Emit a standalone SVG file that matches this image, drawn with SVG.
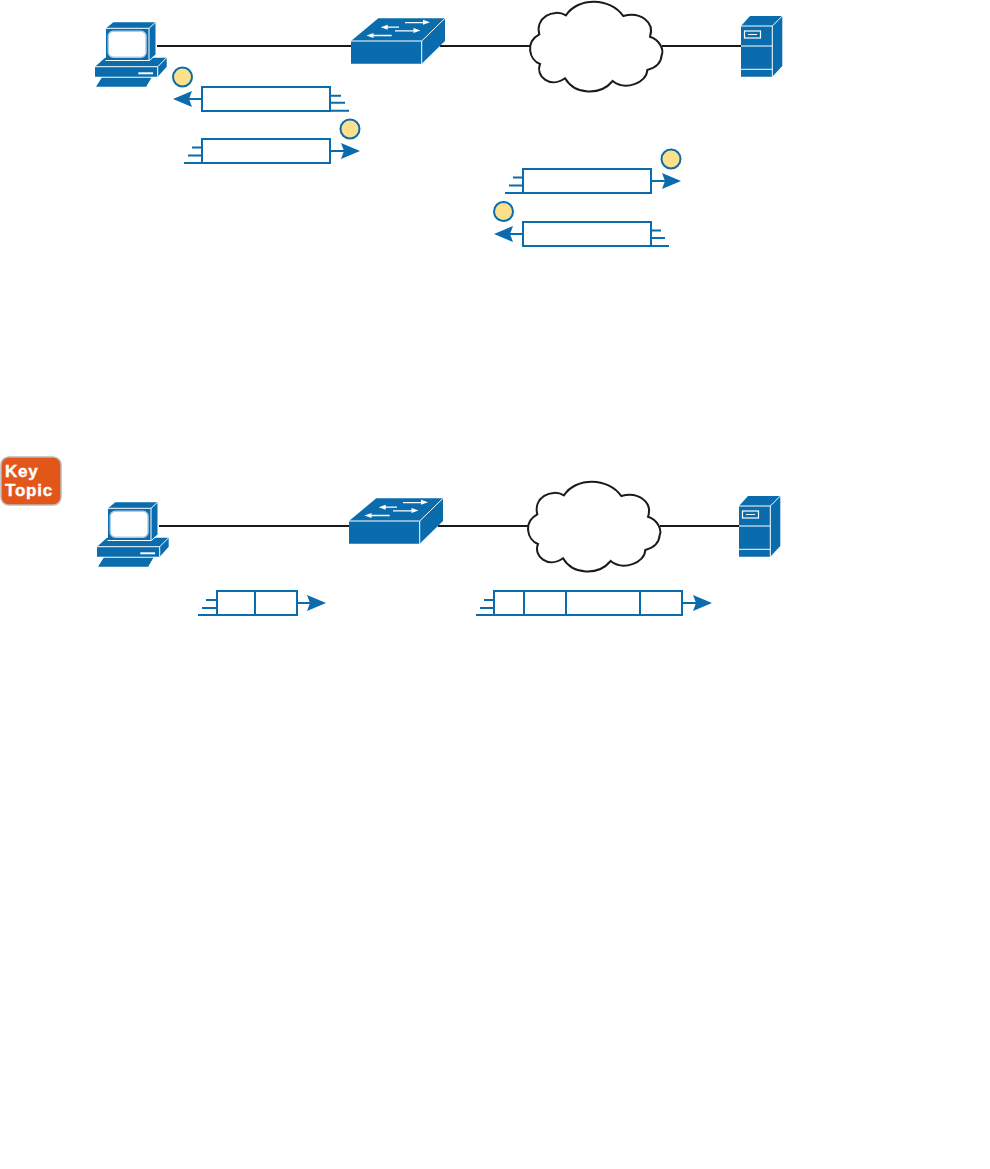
<svg xmlns="http://www.w3.org/2000/svg" width="990" height="1169" viewBox="0 0 990 1169">
<style>
.b{fill:#0a6cad}
.link{stroke:#1a1a1a;stroke-width:2;fill:none}
.q{fill:#fff;stroke:#0a6cad;stroke-width:2}
.l{stroke:#0a6cad;stroke-width:2;fill:none}
.dot{fill:#fde08a;stroke:#0a6cad;stroke-width:2}
.w{fill:none;stroke:#fff;stroke-width:1}
.wa{fill:none;stroke:#fff;stroke-width:1.300}
.wf{fill:#fff}
.kt{font-family:"Liberation Sans",Arial,sans-serif;font-weight:700;font-size:17px;letter-spacing:.8px;fill:#fff;stroke:#fff;stroke-width:.4}
</style>
<defs>
<marker id="head" markerUnits="userSpaceOnUse" markerWidth="20" markerHeight="18" refX="14" refY="8" orient="auto"><path d="M0,0L19,8L0,16L3,8Z" fill="#0a6cad"/></marker>
<g id="pc">
<path class="b" d="M101.700,77.700H151.700L146.700,86.700H96Z"/>
<path class="w" d="M152,77.700L146.700,86.700"/>
<path class="b" d="M95,66.700L105,57.700H166.700V66.700L157.700,76.700H95Z"/>
<path class="w" d="M95,66.700H157.700V76.700M157.700,66.700L166.700,57.700"/>
<path class="wf" d="M138.300,72.300H153V74.300H138.300Z"/>
<path class="b" d="M106,28.300L113.300,22.300H155.500V55L149,60H106Z"/>
<path class="w" d="M105.500,60.500H149.500L155.500,55M106,28.300H149V60M149,28.300L155.500,22.300"/>
<rect x="108.300" y="31.200" width="37.700" height="26" rx="5" fill="#fff" stroke="#a9cde6" stroke-width="1.500"/>
</g>
<g id="sw">
<path class="b" d="M351,41L378.300,18.300H445V41L421.700,63.700H351Z"/>
<path class="w" d="M351,41H421.700V63.700M421.700,41L445,18.300"/>
<path class="wa" d="M405,22.600H424M387,27.100H399M395,30.800H414M373,35.500H391.700"/>
<path class="wf" d="M430,22.300L423,19.800V24.800ZM380.700,27.300L387.700,24.800V29.800ZM420.500,30.500L413.500,28V33ZM366.500,35.600L373.500,33.100V38.100Z"/>
</g>
<path id="cl" d="M566,15.300C578,-3 610,-3 623.300,16C640,11 655,22 650,36.700C660,40 664,50 661.700,55C661,64 655,68 647.300,70C647,83 625,91 612.700,81C600,96 575,95 565,78.300C550,89 535,76 540,64C529,60 525,42 539.300,34.300C535,18 553,8 566,15.300Z" fill="#fff" stroke="#1a1a1a" stroke-width="2"/>
<g id="srv">
<path class="b" d="M741,26L750,16H782.300V66L772.300,76.700H741Z"/>
<path class="w" d="M741,26H772.300V76.700M772.300,26L782.300,16M741,46H772.300M741,69.300H772.300"/>
<rect x="744.500" y="31" width="16" height="7" fill="none" stroke="#fff" stroke-width="1.200"/>
<path class="w" d="M748,34.500H757"/>
</g>
</defs>
<rect width="990" height="1169" fill="#fff"/>
<g id="connectors">
<path class="link" d="M157,46H351M440,46H530M662,46H741M159,526H349M438,526H528M660,526H739"/>
</g>
<g id="pc-top"><use href="#pc"/></g>
<g id="switch-top"><use href="#sw"/></g>
<g id="cloud-top"><use href="#cl"/></g>
<g id="server-top"><use href="#srv"/></g>
<g id="pc-bottom" transform="translate(2 480)"><use href="#pc"/></g>
<g id="switch-bottom" transform="translate(-2 480)"><use href="#sw"/></g>
<g id="cloud-bottom" transform="translate(-2 480)"><use href="#cl"/></g>
<g id="server-bottom" transform="translate(-2 480)"><use href="#srv"/></g>
<g id="key-topic">
<rect x="1" y="457" width="60" height="48" rx="8" fill="#e2561a" stroke="#b9b9b9" stroke-width="1.500"/>
<text class="kt"><tspan x="5" y="477">Key</tspan> <tspan x="5" y="496">Topic</tspan></text>
</g>
<g id="segment-1">
<path class="l" marker-end="url(#head)" d="M202,99H178"/>
<rect class="q" x="202" y="87" width="128" height="24"/>
<path class="l" d="M330,95.700H341M330,102.700H345M330,110.700H349"/>
<circle class="dot" cx="182.500" cy="77" r="9.500"/>
</g>
<g id="segment-2">
<path class="l" marker-end="url(#head)" d="M330,151H355"/>
<rect class="q" x="202" y="139" width="128" height="24"/>
<path class="l" d="M192,147.500H202M188,155.500H202M184,163H202"/>
<circle class="dot" cx="350" cy="129" r="9.500"/>
</g>
<g id="segment-3">
<path class="l" marker-end="url(#head)" d="M651,181H676"/>
<rect class="q" x="523" y="169" width="128" height="24"/>
<path class="l" d="M513,177.500H523M509,185.500H523M505,193H523"/>
<circle class="dot" cx="671" cy="159" r="9.500"/>
</g>
<g id="segment-4">
<path class="l" marker-end="url(#head)" d="M523,234H499"/>
<rect class="q" x="523" y="222" width="128" height="24"/>
<path class="l" d="M651,230.500H661M651,238H665M651,246H669"/>
<circle class="dot" cx="503.500" cy="211.500" r="9.500"/>
</g>
<g id="frame-short">
<path class="l" marker-end="url(#head)" d="M297,603H321"/>
<rect class="q" x="217" y="591" width="80" height="24"/>
<path class="l" d="M255,591V615M206,600H217M202,608H217M198,615H217"/>
</g>
<g id="frame-long">
<path class="l" marker-end="url(#head)" d="M682,603H707"/>
<rect class="q" x="494" y="591" width="188" height="24"/>
<path class="l" d="M524,591V615M566,591V615M640,591V615M484,600H494M480,608H494M476,615H494"/>
</g>
</svg>
